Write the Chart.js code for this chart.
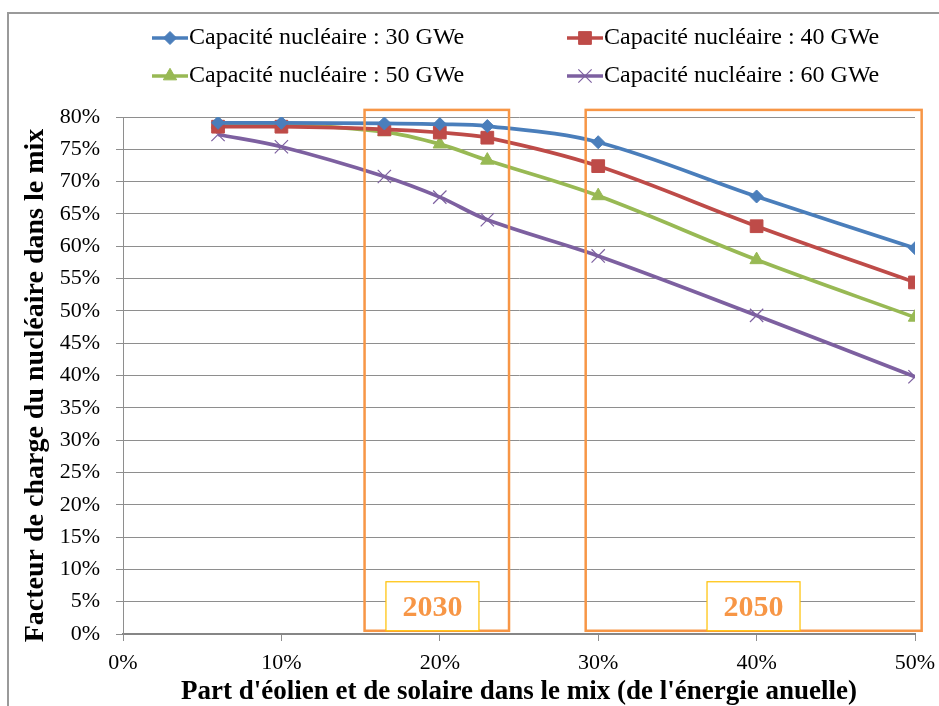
<!DOCTYPE html>
<html><head><meta charset="utf-8">
<script src="https://cdn.jsdelivr.net/npm/chart.js@4/dist/chart.umd.min.js"></script>
<style>html,body{margin:0;padding:0;background:#fff;} #wrap{width:939px;height:706px;position:relative;}</style>
</head><body><div id="wrap"><canvas id="c" width="939" height="706"></canvas></div>
<script>
// ---- data ----
const shareWindSolar = [0.06, 0.10, 0.165, 0.20, 0.23, 0.30, 0.40, 0.50];
const cap30GWe = [0.791, 0.791, 0.790, 0.789, 0.786, 0.761, 0.677, 0.597];
const cap40GWe = [0.785, 0.785, 0.781, 0.776, 0.768, 0.724, 0.631, 0.544];
const cap50GWe = [0.790, 0.789, 0.777, 0.758, 0.733, 0.678, 0.579, 0.490];
const cap60GWe = [0.773, 0.754, 0.708, 0.676, 0.641, 0.585, 0.493, 0.398];
const seriesNames = ['Capacité nucléaire : 30 GWe', 'Capacité nucléaire : 40 GWe', 'Capacité nucléaire : 50 GWe', 'Capacité nucléaire : 60 GWe'];
const periodLabels = ['2030', '2050'];
const periodShareRanges = [[0.1525, 0.2437], [0.2921, 0.5042]];
const periodLabelStart = [0.166, 0.3687];
const xTitle = "Part d'éolien et de solaire dans le mix (de l'énergie anuelle)";
const yTitle = 'Facteur de charge du nucléaire dans le mix';

const SERIF = '"Liberation Serif", "Times New Roman", serif';
const colors = ['#4A7EBB', '#BE4B48', '#98B954', '#7D60A0'];
const styles = [
  {pointStyle: 'rectRot', radius: 6.5, borderWidth: 1},
  {pointStyle: 'rect', radius: 9, borderWidth: 1},
  {pointStyle: 'triangle', radius: 7.7, borderWidth: 1},
  {pointStyle: 'crossRot', radius: 9.4, borderWidth: 1.2}
];
const allSeries = [cap30GWe, cap40GWe, cap50GWe, cap60GWe];

const datasets = allSeries.map((vals, i) => ({
  label: seriesNames[i],
  data: shareWindSolar.map((x, j) => ({x: x, y: vals[j]})),
  borderColor: colors[i],
  backgroundColor: colors[i],
  borderWidth: 3.7,
  tension: 0.35,
  pointStyle: styles[i].pointStyle,
  pointRadius: styles[i].radius,
  pointBorderWidth: styles[i].borderWidth,
  pointBackgroundColor: colors[i],
  pointBorderColor: colors[i],
  showLine: true,
  fill: false
}));

const framePlugin = {
  id: 'frame',
  beforeDraw(chart) {
    const ctx = chart.ctx;
    ctx.save();
    ctx.fillStyle = '#fff';
    ctx.fillRect(0, 0, chart.width, chart.height);
    ctx.strokeStyle = '#9a9a9a';
    ctx.lineWidth = 2;
    ctx.beginPath();
    ctx.moveTo(8, chart.height);
    ctx.lineTo(8, 13);
    ctx.lineTo(chart.width, 13);
    ctx.stroke();
    ctx.restore();
  },
  afterDraw(chart) {
    // y axis title, centred where the reference places it
    const ctx = chart.ctx, ys = chart.scales.y;
    ctx.save();
    ctx.fillStyle = '#000';
    ctx.font = 'bold 28px ' + SERIF;
    ctx.textAlign = 'center';
    ctx.textBaseline = 'alphabetic';
    ctx.translate(43, (ys.top + ys.bottom) / 2 + 10);
    ctx.rotate(-Math.PI / 2);
    ctx.fillText(yTitle, 0, 0);
    ctx.restore();
  }
};

const periodPlugin = {
  id: 'periods',
  afterDatasetsDraw(chart) {
    const ctx = chart.ctx, xs = chart.scales.x, ys = chart.scales.y;
    ctx.save();
    periodShareRanges.forEach((r, i) => {
      const l = xs.getPixelForValue(r[0]), rt = xs.getPixelForValue(r[1]);
      const t = ys.getPixelForValue(0.811), b = ys.getPixelForValue(0.005);
      ctx.strokeStyle = '#F79646';
      ctx.lineWidth = 2.5;
      ctx.strokeRect(l, t, rt - l, b - t);
      const lbW = 93, lbH = 49;
      const lbx = xs.getPixelForValue(periodLabelStart[i]);
      const lby = b - lbH;
      ctx.fillStyle = '#fff';
      ctx.fillRect(lbx, lby, lbW, lbH);
      ctx.strokeStyle = '#FFC000';
      ctx.lineWidth = 1.2;
      ctx.strokeRect(lbx, lby, lbW, lbH);
      ctx.fillStyle = '#F79646';
      ctx.font = 'bold 30px ' + SERIF;
      ctx.textAlign = 'center';
      ctx.textBaseline = 'middle';
      ctx.fillText(periodLabels[i], lbx + lbW / 2, lby + lbH / 2 + 2);
    });
    ctx.restore();
  }
};

const legendPlugin = {
  id: 'customLegend',
  afterDraw(chart) {
    const ctx = chart.ctx;
    const cols = [152, 567], rows = [38, 76];
    ctx.save();
    chart.data.datasets.forEach((ds, i) => {
      const x0 = cols[i % 2], y0 = rows[Math.floor(i / 2)];
      ctx.strokeStyle = ds.borderColor;
      ctx.lineWidth = 3.7;
      ctx.beginPath();
      ctx.moveTo(x0, y0);
      ctx.lineTo(x0 + 36, y0);
      ctx.stroke();
      ctx.fillStyle = ds.pointBackgroundColor;
      ctx.strokeStyle = ds.pointBorderColor;
      ctx.lineWidth = ds.pointBorderWidth;
      Chart.helpers.drawPoint(ctx, {pointStyle: ds.pointStyle, radius: ds.pointRadius, rotation: 0, borderWidth: ds.pointBorderWidth}, x0 + 18, y0);
      ctx.fillStyle = '#000';
      ctx.font = '24px ' + SERIF;
      ctx.textAlign = 'left';
      ctx.textBaseline = 'middle';
      ctx.fillText(ds.label, x0 + 37, y0);
    });
    ctx.restore();
  }
};

new Chart(document.getElementById('c'), {
  type: 'line',
  data: {datasets: datasets},
  plugins: [framePlugin, periodPlugin, legendPlugin],
  options: {
    responsive: false,
    devicePixelRatio: 1,
    animation: false,
    layout: {padding: {top: 117, left: 0, right: 24, bottom: 0}},
    plugins: {legend: {display: false}, tooltip: {enabled: false}},
    scales: {
      x: {
        type: 'linear', min: 0, max: 0.5,
        afterFit(s) { s.height = 72; s.paddingRight = 0; s.paddingLeft = 0; },
        ticks: {stepSize: 0.1, padding: 9, color: '#000', font: {family: SERIF, size: 22},
          callback: v => Math.round(v * 100) + '%'},
        grid: {drawOnChartArea: false, drawTicks: true, tickLength: 7, color: '#8e8e8e'},
        border: {display: true, color: '#868686', width: 2},
        title: {display: true, text: xTitle, color: '#000', padding: {top: 0, bottom: 0},
          font: {family: SERIF, size: 27, weight: 'bold', lineHeight: 1}}
      },
      y: {
        type: 'linear', min: 0, max: 0.8,
        afterFit(s) { s.width = 123; s.paddingTop = 0; s.paddingBottom = 0; },
        ticks: {stepSize: 0.05, padding: 16, color: '#000', font: {family: SERIF, size: 22},
          callback: v => Math.round(v * 100) + '%'},
        grid: {drawOnChartArea: true, drawTicks: true, tickLength: 7, color: '#8e8e8e', lineWidth: 1},
        border: {display: true, color: '#8e8e8e', width: 1},
        title: {display: false, text: yTitle}
      }
    }
  }
});
</script>
</body></html>
